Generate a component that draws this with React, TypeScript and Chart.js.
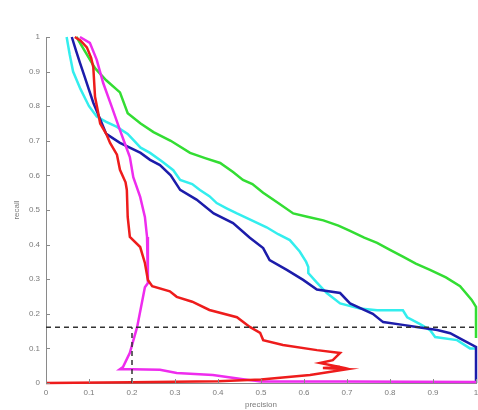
import React, { useEffect, useRef } from "react";
import { Chart, registerables } from "chart.js";

Chart.register(...registerables);

const xTicks = [0, 0.1, 0.2, 0.3, 0.4, 0.5, 0.6, 0.7, 0.8, 0.9, 1];
const yTicks = [0, 0.1, 0.2, 0.3, 0.4, 0.5, 0.6, 0.7, 0.8, 0.9, 1];
const xTickLabels = ["0", "0.1", "0.2", "0.3", "0.4", "0.5", "0.6", "0.7", "0.8", "0.9", "1"];
const yTickLabels = ["0", "0.1", "0.2", "0.3", "0.4", "0.5", "0.6", "0.7", "0.8", "0.9", "1"];

const greenP = [0.071, 0.09, 0.114, 0.14, 0.172, 0.19, 0.22, 0.25, 0.29, 0.335, 0.37, 0.405, 0.435, 0.458, 0.48, 0.505, 0.54, 0.575, 0.61, 0.645, 0.68, 0.707, 0.74, 0.77, 0.8, 0.83, 0.86, 0.893, 0.93, 0.963, 0.99, 1.0, 1.0];
const greenR = [1.0, 0.96, 0.91, 0.875, 0.84, 0.78, 0.75, 0.725, 0.7, 0.665, 0.65, 0.636, 0.61, 0.587, 0.575, 0.55, 0.52, 0.49, 0.48, 0.47, 0.455, 0.44, 0.42, 0.405, 0.385, 0.365, 0.345, 0.327, 0.305, 0.28, 0.24, 0.22, 0.13];

const cyanP = [0.048, 0.055, 0.063, 0.08, 0.1, 0.118, 0.14, 0.165, 0.19, 0.22, 0.242, 0.27, 0.296, 0.312, 0.34, 0.358, 0.38, 0.397, 0.42, 0.444, 0.47, 0.513, 0.54, 0.567, 0.59, 0.605, 0.61, 0.61, 0.63, 0.653, 0.684, 0.73, 0.77, 0.83, 0.84, 0.87, 0.893, 0.905, 0.956, 0.986, 1.0];
const cyanR = [1.0, 0.95, 0.9, 0.85, 0.8, 0.77, 0.755, 0.74, 0.72, 0.68, 0.665, 0.64, 0.615, 0.587, 0.575, 0.558, 0.54, 0.52, 0.505, 0.49, 0.475, 0.45, 0.43, 0.413, 0.38, 0.35, 0.335, 0.318, 0.29, 0.26, 0.23, 0.215, 0.21, 0.21, 0.19, 0.17, 0.153, 0.133, 0.124, 0.1, 0.1];

const blueP = [0.06, 0.07, 0.079, 0.09, 0.1, 0.11, 0.12, 0.13, 0.14, 0.172, 0.22, 0.242, 0.265, 0.29, 0.312, 0.35, 0.39, 0.435, 0.474, 0.505, 0.52, 0.56, 0.598, 0.63, 0.684, 0.707, 0.76, 0.784, 0.83, 0.862, 0.91, 0.94, 0.97, 1.0, 1.0];
const blueR = [1.0, 0.96, 0.925, 0.885, 0.847, 0.81, 0.78, 0.75, 0.72, 0.694, 0.665, 0.645, 0.63, 0.6, 0.558, 0.53, 0.49, 0.462, 0.42, 0.39, 0.355, 0.327, 0.298, 0.27, 0.26, 0.23, 0.2, 0.176, 0.168, 0.162, 0.153, 0.144, 0.124, 0.104, 0.0];

const redP = [0.067, 0.08, 0.095, 0.105, 0.11, 0.112, 0.114, 0.12, 0.126, 0.14, 0.149, 0.165, 0.172, 0.185, 0.188, 0.19, 0.195, 0.219, 0.23, 0.237, 0.247, 0.288, 0.304, 0.34, 0.38, 0.444, 0.474, 0.498, 0.505, 0.551, 0.63, 0.684, 0.667, 0.637, 0.684, 0.644, 0.7, 0.614, 0.5, 0.4, 0.2, 0.0];
const redR = [1.0, 0.99, 0.97, 0.94, 0.913, 0.87, 0.827, 0.79, 0.75, 0.72, 0.694, 0.66, 0.616, 0.58, 0.558, 0.48, 0.422, 0.393, 0.347, 0.298, 0.28, 0.265, 0.249, 0.235, 0.211, 0.19, 0.162, 0.145, 0.124, 0.11, 0.095, 0.087, 0.066, 0.058, 0.046, 0.043, 0.04, 0.023, 0.01, 0.005, 0.002, 0.0];

const magentaP = [0.079, 0.102, 0.118, 0.133, 0.153, 0.172, 0.184, 0.195, 0.203, 0.219, 0.23, 0.235, 0.237, 0.237, 0.23, 0.212, 0.195, 0.179, 0.172, 0.2, 0.265, 0.304, 0.388, 0.45, 0.5, 0.7, 1.0];
const magentaR = [1.0, 0.983, 0.934, 0.867, 0.798, 0.731, 0.69, 0.653, 0.595, 0.538, 0.48, 0.422, 0.355, 0.289, 0.277, 0.162, 0.087, 0.046, 0.04, 0.04, 0.038, 0.029, 0.023, 0.012, 0.004, 0.004, 0.003];

const hLineP = [0, 1];
const hLineR = [0.161, 0.161];
const vLineP = [0.2, 0.2];
const vLineR = [0, 0.161];

const zip = (p: number[], r: number[]) => p.map((x, i) => ({ x, y: r[i] }));

const inwardTicks = {
  id: "inwardTicks",
  afterDraw(chart: any) {
    const { ctx, chartArea, scales } = chart;
    ctx.save();
    ctx.strokeStyle = "#8a8a8a";
    ctx.lineWidth = 1;
    ctx.beginPath();
    xTicks.forEach((v) => {
      const px = Math.round(scales.x.getPixelForValue(v)) + 0.5;
      ctx.moveTo(px, chartArea.bottom);
      ctx.lineTo(px, chartArea.bottom - 4);
    });
    yTicks.forEach((v) => {
      const py = Math.round(scales.y.getPixelForValue(v)) + 0.5;
      ctx.moveTo(chartArea.left, py);
      ctx.lineTo(chartArea.left + 4, py);
    });
    ctx.stroke();
    ctx.restore();
  },
};

export default function App() {
  const ref = useRef<HTMLCanvasElement | null>(null);
  useEffect(() => {
    if (!ref.current) return;
    const lineDs = (label: string, p: number[], r: number[], color: string, extra: any = {}) => ({
      label,
      data: zip(p, r),
      borderColor: color,
      backgroundColor: color,
      borderWidth: 2.5,
      pointRadius: 0,
      showLine: true,
      tension: 0,
      clip: false,
      ...extra,
    });
    const chart = new Chart(ref.current, {
      type: "scatter",
      data: {
        datasets: [
          lineDs("dash-h", hLineP, hLineR, "#333333", { borderWidth: 1.5, borderDash: [5, 4], order: 0 }),
          lineDs("dash-v", vLineP, vLineR, "#333333", { borderWidth: 1.5, borderDash: [5, 4], order: 0 }),
          lineDs("red", redP, redR, "#ee1c1c", { order: 1 }),
          lineDs("magenta", magentaP, magentaR, "#ee2cee", { order: 2 }),
          lineDs("blue", blueP, blueR, "#1c1caa", { order: 3 }),
          lineDs("cyan", cyanP, cyanR, "#33eeee", { order: 4 }),
          lineDs("green", greenP, greenR, "#33dd33", { order: 5 }),
        ],
      },
      options: {
        responsive: false,
        animation: false,
        layout: { padding: { top: 37, right: 2, left: 0, bottom: 0 } },
        plugins: { legend: { display: false }, tooltip: { enabled: false } },
        scales: {
          x: {
            type: "linear",
            min: 0,
            max: 1,
            afterBuildTicks: (s: any) => {
              s.ticks = xTicks.map((v) => ({ value: v }));
            },
            afterFit: (s: any) => {
              s.height = 27;
              s.paddingRight = 0;
              s.paddingLeft = 0;
            },
            grid: { display: false, drawTicks: false },
            border: { display: true, color: "#8a8a8a", width: 1 },
            ticks: {
              autoSkip: false,
              maxRotation: 0,
              padding: 5,
              color: "#7a7a7a",
              font: { family: "Liberation Sans, Arial, sans-serif", size: 8 },
              callback: (v: any) => xTickLabels[xTicks.indexOf(Math.round(Number(v) * 10) / 10)] ?? "",
            },
            title: {
              display: true,
              text: "precision",
              color: "#7a7a7a",
              font: { family: "Liberation Sans, Arial, sans-serif", size: 8 },
              padding: { top: 0, bottom: 0 },
            },
          },
          y: {
            type: "linear",
            min: 0,
            max: 1,
            afterBuildTicks: (s: any) => {
              s.ticks = yTicks.map((v) => ({ value: v }));
            },
            afterFit: (s: any) => {
              s.width = 46;
              s.paddingTop = 0;
              s.paddingBottom = 0;
            },
            grid: { display: false, drawTicks: false },
            border: { display: true, color: "#8a8a8a", width: 1 },
            ticks: {
              autoSkip: false,
              padding: 6,
              color: "#7a7a7a",
              font: { family: "Liberation Sans, Arial, sans-serif", size: 8 },
              callback: (v: any) => yTickLabels[yTicks.indexOf(Math.round(Number(v) * 10) / 10)] ?? "",
            },
            title: {
              display: true,
              text: "recall",
              color: "#7a7a7a",
              font: { family: "Liberation Sans, Arial, sans-serif", size: 8 },
              padding: { top: 12, bottom: 0 },
            },
          },
        },
      },
      plugins: [inwardTicks],
    } as any);
    return () => chart.destroy();
  }, []);
  return (
    <div style={{ position: "fixed", left: 0, top: 0, width: 478, height: 410, background: "#fff" }}>
      <canvas ref={ref} width={478} height={410} style={{ display: "block" }} />
    </div>
  );
}
